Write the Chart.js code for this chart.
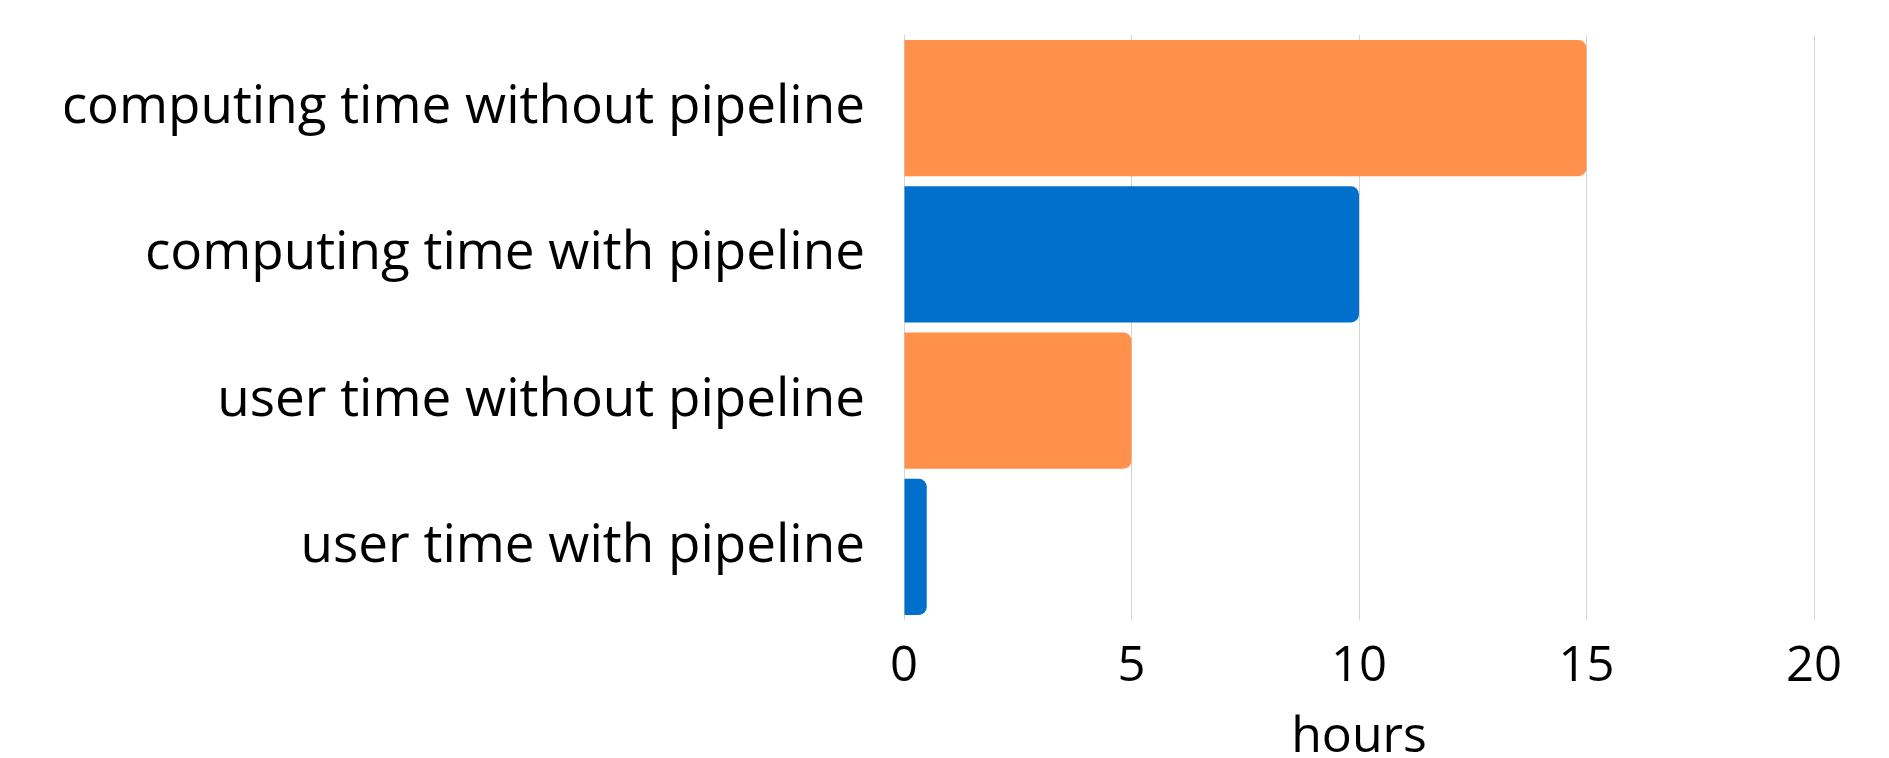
<!DOCTYPE html>
<html>
<head>
<meta charset="utf-8">
<script src="https://cdn.jsdelivr.net/npm/chart.js@4"></script>
<style>
  html, body { margin: 0; padding: 0; background: #fff; overflow: hidden; }
  /* left edge of the chart sits 65px in, so the long label gets cut like in the original */
  #wrap { position: absolute; left: 65px; top: 0; width: 1824px; height: 758px; }
</style>
</head>
<body>
<div id="wrap"><canvas id="myChart"></canvas></div>
<script>
// data
const categories = [
  'computing time without pipeline',
  'computing time with pipeline',
  'user time without pipeline',
  'user time with pipeline'
];
const hours = [15, 10, 5, 0.5];
const xTicks = [0, 5, 10, 15, 20];
const barColors = ['#FF914D', '#0070CC', '#FF914D', '#0070CC'];

const font = 'Open Sans';

// config
const config = {
  type: 'bar',
  data: {
    labels: categories,
    datasets: [{
      label: 'hours',
      data: hours,
      backgroundColor: barColors,
      borderWidth: 0,
      borderRadius: 8,
      barPercentage: 0.93,
      categoryPercentage: 1
    }]
  },
  options: {
    indexAxis: 'y',
    responsive: true,
    maintainAspectRatio: false,
    devicePixelRatio: 1,
    animation: false,
    layout: { padding: { top: 35, right: 75, bottom: 0, left: 0 } },
    plugins: {
      legend: { display: false },
      tooltip: { enabled: false }
    },
    scales: {
      x: {
        min: 0,
        max: 20,
        afterBuildTicks: (scale) => { scale.ticks = xTicks.map(v => ({ value: v })); },
        grid: { color: '#d4d4d4', drawTicks: false },
        border: { display: false },
        ticks: {
          color: '#000',
          padding: 18,
          font: { family: font, size: 49 }
        },
        title: {
          display: true,
          text: 'hours',
          color: '#000',
          padding: { top: 14, bottom: 0 },
          font: { family: font, size: 50, lineHeight: 0.8 }
        },
        afterFit: (scale) => { scale.height = 138; }
      },
      y: {
        grid: { display: false },
        border: { display: false },
        ticks: {
          color: '#000',
          padding: 31,
          font: { family: font, size: 53 }
        },
        afterFit: (scale) => {
          scale.width = 839;
          scale.paddingTop = 0;
          scale.paddingBottom = 0;
        }
      }
    }
  }
};

// render
const myChart = new Chart(document.getElementById('myChart'), config);
</script>
</body>
</html>
